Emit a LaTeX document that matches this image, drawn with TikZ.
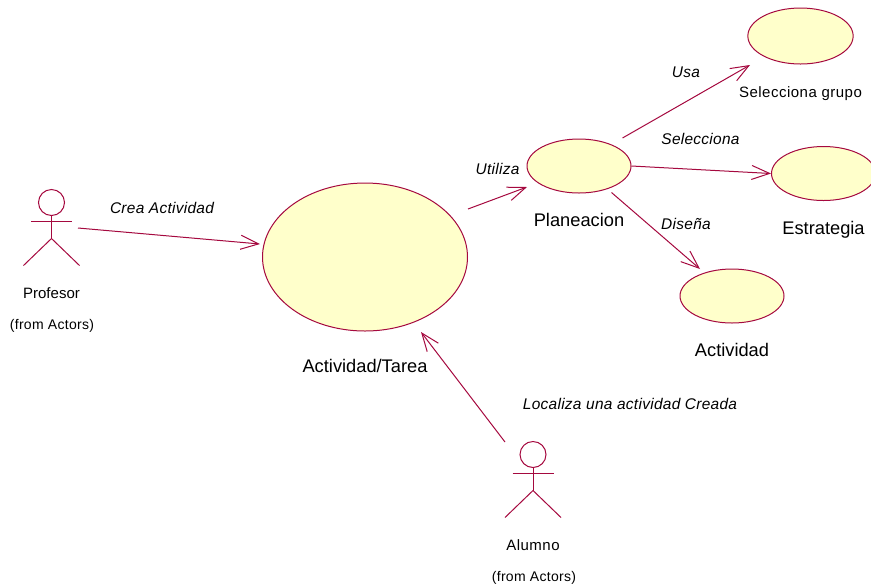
\documentclass[tikz,border=0pt]{standalone}
\usepackage{fontspec}
\setmainfont{Liberation Sans}
\usepackage{tikz}
\usetikzlibrary{arrows.meta}
\usetikzlibrary{positioning}
\usetikzlibrary{shapes.geometric}
\definecolor{roseline}{HTML}{A5093F}
\definecolor{rosefill}{HTML}{FFFFCB}
\tikzset{usecase/.style = {ellipse, draw = roseline, fill = rosefill, line width = 0.75pt,
                           inner sep = 0pt, minimum width = #1},
         assoc/.style = {draw = roseline, line width = 0.75pt,
                         -{Straight Barb[length = 13.5pt, width = 10.5pt]}},
         biglabel/.style = {font = \fontsize{13.7}{16}\selectfont, inner sep = 0pt},
         smalllabel/.style = {font = \fontsize{11.25}{14}\selectfont, inner sep = 0pt},
         spacedlabel/.style = {font = \fontsize{11.25}{14}\selectfont\addfontfeature{LetterSpace=3.3}, inner sep = 0pt},
         fromlabel/.style = {font = \fontsize{10.5}{13}\selectfont\addfontfeature{LetterSpace=2.2}, inner sep = 0pt},
         linklabel/.style = {font = \fontsize{11.6}{14}\itshape\selectfont\addfontfeature{LetterSpace=1.8}, inner sep = 0pt},
         pics/actorfig/.style = {code = {
           \draw [roseline, line width = 0.75pt] (0, -52) circle (13);
           \draw [roseline, line width = 0.75pt] (-20.5, -33) -- (20.5, -33);
           \draw [roseline, line width = 0.75pt] (0, -39) -- (0, -16);
           \draw [roseline, line width = 0.75pt] (-28, 11) -- (0, -16) -- (28, 11);
         }}}

\begin{document}
\begin{tikzpicture}[x = 0.75pt, y = -0.75pt]
    \useasboundingbox (0, 0) rectangle (871, 587);
    \path (51.5, 254.5) pic {actorfig};
    \path (533, 506.5) pic {actorfig};
    \node [usecase = 153.75pt, minimum height = 111pt] (tarea) at (365, 257) {};
    \node [usecase = 78pt, minimum height = 40.5pt] (planeacion) at (579, 166) {};
    \node [usecase = 79pt, minimum height = 42pt] (grupo) at (800.5, 36) {};
    \node [usecase = 78pt, minimum height = 40.5pt] (estrategia) at (823.5, 173.5) {};
    \node [usecase = 78pt, minimum height = 40.5pt] (actividad) at (732, 296) {};
    \node [smalllabel] (profesor) at (51.5, 293) {Profesor};
    \node [fromlabel] (fromprofesor) at (52, 325.5) {(from Actors)};
    \node [spacedlabel] (alumno) at (533, 545) {Alumno};
    \node [fromlabel] (fromalumno) at (534, 577.5) {(from Actors)};
    \node [biglabel] (tarealabel) at (365, 366) {Actividad/Tarea};
    \node [biglabel] (planeacionlabel) at (579, 220) {Planeacion};
    \node [biglabel] (estrategialabel) at (823.5, 230) {Estrategia};
    \node [biglabel] (actividadlabel) at (732, 350) {Actividad};
    \node [spacedlabel] (grupolabel) at (800.5, 93.5) {Selecciona grupo};
    \node [linklabel] (crea) at (162, 208) {Crea Actividad};
    \node [linklabel] (utiliza) at (497.5, 169) {Utiliza};
    \node [linklabel] (usa) at (686, 72) {Usa};
    \node [linklabel] (selecciona) at (700.5, 139) {Selecciona};
    \node [linklabel] (disena) at (686, 224) {Diseña};
    \node [linklabel] (localiza) at (630, 404) {Localiza una actividad Creada};
    \coordinate (creastart) at (78, 228);
    \coordinate (creatip) at (260, 244);
    \coordinate (utilizastart) at (468, 209);
    \coordinate (utilizatip) at (527, 187);
    \coordinate (usastart) at (622.5, 138);
    \coordinate (usatip) at (750, 65);
    \coordinate (disenastart) at (611.5, 192.5);
    \coordinate (disenatip) at (700, 269);
    \coordinate (alumnostart) at (505, 442);
    \coordinate (alumnotip) at (421, 332);
    \draw [assoc] (creastart) -- (creatip);
    \draw [assoc] (utilizastart) -- (utilizatip);
    \draw [assoc] (usastart) -- (usatip);
    \draw [assoc] (planeacion.east) -- (estrategia.west);
    \draw [assoc] (disenastart) -- (disenatip);
    \draw [assoc] (alumnostart) -- (alumnotip);
  \end{tikzpicture}
\end{document}
